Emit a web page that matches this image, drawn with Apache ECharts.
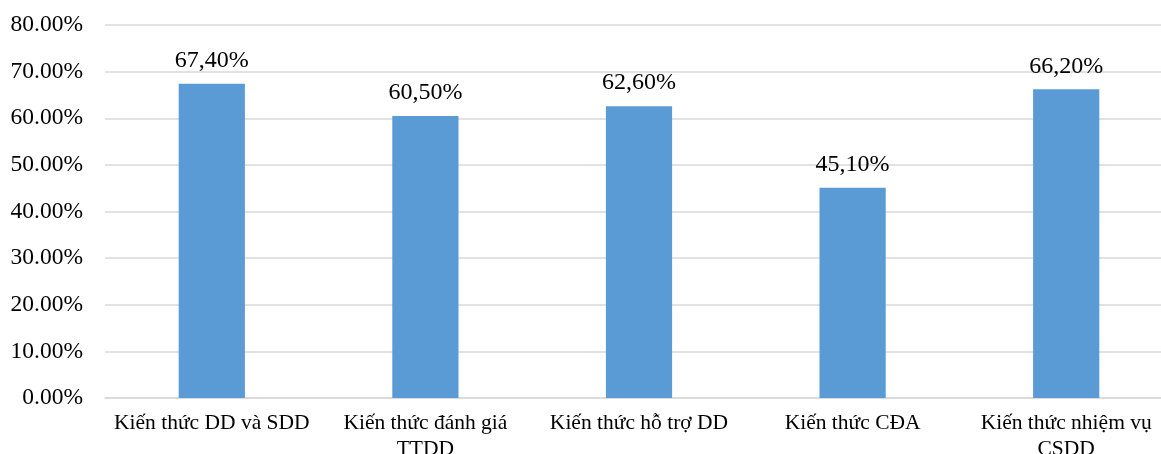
<!DOCTYPE html>
<html>
<head>
<meta charset="utf-8">
<script src="https://cdn.jsdelivr.net/npm/echarts@6/dist/echarts.min.js"></script>
<style>
  html, body { margin: 0; padding: 0; background: #fff; }
  #chart { width: 1161px; height: 454px; }
</style>
</head>
<body>
<div id="chart"></div>
<script>
// Knowledge areas and the share of respondents for each
const categories = [
  'Kiến thức DD và SDD',
  'Kiến thức đánh giá TTDD',
  'Kiến thức hỗ trợ DD',
  'Kiến thức CĐA',
  'Kiến thức nhiệm vụ CSDD'
];
const values = [67.4, 60.5, 62.6, 45.1, 66.2];
const yTicks = [0, 10, 20, 30, 40, 50, 60, 70, 80];

const serif = '"Liberation Serif", "Times New Roman", serif';

// Long category names go onto two lines, broken at the last space
function wrapLabel(text) {
  if (text.length <= 20) return text;
  const i = text.lastIndexOf(' ');
  return text.slice(0, i) + '\n' + text.slice(i + 1);
}

const chart = echarts.init(document.getElementById('chart'));
chart.setOption({
  animation: false,
  grid: {
    left: 105, top: 25, width: 1068, bottom: 56,
    containLabel: false, outerBoundsMode: 'none'
  },
  xAxis: {
    type: 'category',
    data: categories,
    axisLine: { show: true, lineStyle: { color: '#d9d9d9', width: 1.5 } },
    axisTick: { show: false },
    axisLabel: {
      color: '#000', fontFamily: serif, fontSize: 21.5, margin: 12,
      lineHeight: 26, interval: 0, overflow: 'none', hideOverlap: false,
      formatter: wrapLabel
    }
  },
  yAxis: {
    type: 'value',
    min: yTicks[0], max: yTicks[yTicks.length - 1], interval: 10,
    axisLine: { show: false },
    axisTick: { show: false },
    splitLine: { lineStyle: { color: '#d9d9d9', width: 1.5 } },
    axisLabel: {
      color: '#000', fontFamily: serif, fontSize: 23.5, margin: 22,
      formatter: v => v.toFixed(2) + '%'
    }
  },
  series: [{
    type: 'bar',
    data: values,
    barWidth: '31%',
    itemStyle: { color: '#5B9BD5' },
    label: {
      show: true, position: 'top', distance: 11,
      color: '#000', fontFamily: serif, fontSize: 24,
      formatter: p => p.value.toFixed(2).replace('.', ',') + '%'
    }
  }]
});
</script>
</body>
</html>
